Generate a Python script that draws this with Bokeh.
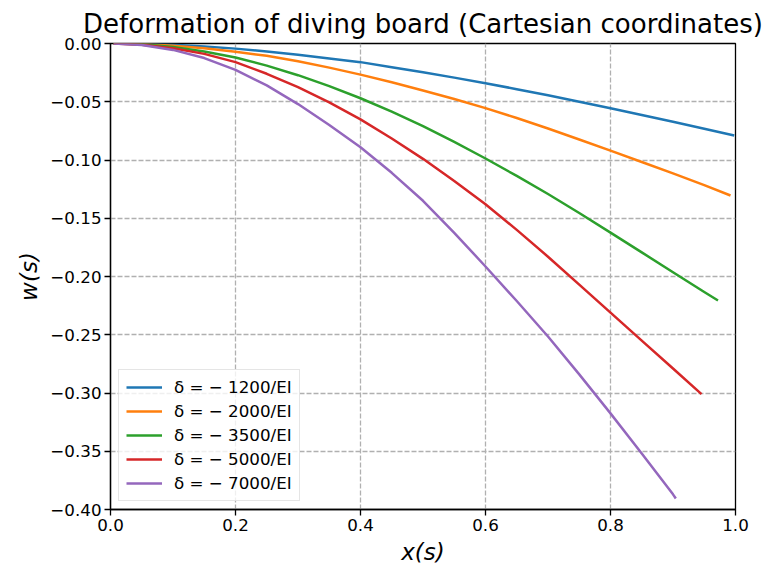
from bokeh.plotting import figure
from bokeh.models import Legend, LegendItem, FixedTicker, CustomJSTickFormatter, Range1d
from bokeh.embed import file_html
from bokeh.resources import INLINE

# ---- data ----
labels = ["δ = − 1200/EI", "δ = − 2000/EI", "δ = − 3500/EI", "δ = − 5000/EI", "δ = − 7000/EI"]
colors = ["#1f77b4", "#ff7f0e", "#2ca02c", "#d62728", "#9467bd"]

x_1200 = [0.005, 0.05, 0.1, 0.15, 0.2, 0.25, 0.3, 0.35, 0.4, 0.45, 0.5, 0.55, 0.6, 0.65, 0.7, 0.75, 0.8, 0.85, 0.9, 0.95, 0.998]
w_1200 = [-0.0001, -0.0003, -0.0011, -0.0025, -0.0044, -0.0068, -0.0096, -0.0128, -0.0160, -0.0204, -0.0247, -0.0293, -0.0341, -0.0392, -0.0445, -0.0500, -0.0555, -0.0614, -0.0672, -0.0731, -0.0790]

x_2000 = [0.005, 0.05, 0.1, 0.15, 0.2, 0.25, 0.3, 0.35, 0.4, 0.45, 0.5, 0.55, 0.6, 0.65, 0.7, 0.75, 0.8, 0.85, 0.9, 0.95, 0.992]
w_2000 = [-0.0001, -0.0005, -0.0019, -0.0040, -0.0070, -0.0106, -0.0152, -0.0207, -0.0267, -0.0333, -0.0403, -0.0477, -0.0555, -0.0640, -0.0730, -0.0824, -0.0920, -0.1017, -0.1115, -0.1215, -0.1305]

x_3500 = [0.005, 0.05, 0.1, 0.15, 0.2, 0.25, 0.3, 0.35, 0.4, 0.45, 0.5, 0.55, 0.6, 0.65, 0.7, 0.75, 0.8, 0.85, 0.9, 0.95, 0.972]
w_3500 = [-0.0001, -0.0007, -0.0030, -0.0068, -0.0120, -0.0190, -0.0272, -0.0366, -0.0470, -0.0585, -0.0710, -0.0845, -0.0987, -0.1137, -0.1292, -0.1455, -0.1623, -0.1793, -0.1963, -0.2133, -0.2206]

x_5000 = [0.005, 0.05, 0.1, 0.15, 0.2, 0.25, 0.3, 0.35, 0.4, 0.45, 0.5, 0.55, 0.6, 0.65, 0.7, 0.75, 0.8, 0.85, 0.9, 0.9456]
w_5000 = [-0.0001, -0.0010, -0.0040, -0.0089, -0.0160, -0.0260, -0.0375, -0.0505, -0.0651, -0.0815, -0.0990, -0.1180, -0.1380, -0.1600, -0.1830, -0.2070, -0.2310, -0.2550, -0.2790, -0.3010]

x_7000 = [0.005, 0.05, 0.1, 0.15, 0.2, 0.25, 0.3, 0.35, 0.4, 0.45, 0.5, 0.55, 0.6, 0.65, 0.7, 0.75, 0.8, 0.85, 0.9, 0.9045]
w_7000 = [-0.0001, -0.0012, -0.0055, -0.0125, -0.0227, -0.0360, -0.0520, -0.0700, -0.0890, -0.1110, -0.1350, -0.1625, -0.1914, -0.2210, -0.2515, -0.2840, -0.3175, -0.3520, -0.3870, -0.3905]

x_ticks = [0.0, 0.2, 0.4, 0.6, 0.8, 1.0]
y_ticks = [0.0, -0.05, -0.10, -0.15, -0.20, -0.25, -0.30, -0.35, -0.40]

series_x = [x_1200, x_2000, x_3500, x_5000, x_7000]
series_w = [w_1200, w_2000, w_3500, w_5000, w_7000]

FONT = "DejaVu Sans"

p = figure(width=768, height=568, output_backend="svg", toolbar_location=None,
           x_range=Range1d(0, 1), y_range=Range1d(-0.4, 0),
           min_border_left=110, min_border_right=33, min_border_top=43, min_border_bottom=59,
           title="Deformation of diving board (Cartesian coordinates)")

p.title.align = "center"
p.title.text_font = FONT
p.title.text_font_size = "26px"
p.title.text_font_style = "normal"
p.title.text_color = "black"

p.background_fill_color = "white"
p.border_fill_color = "white"
p.outline_line_color = "black"
p.outline_line_width = 1.3

items = []
for xs, ws, c, lab in zip(series_x, series_w, colors, labels):
    r = p.line(xs, ws, line_color=c, line_width=2.5, line_join="round")
    items.append(LegendItem(label=lab, renderers=[r]))

# axes
p.xaxis.ticker = FixedTicker(ticks=x_ticks)
p.yaxis.ticker = FixedTicker(ticks=y_ticks)
p.xaxis.formatter = CustomJSTickFormatter(code="return tick.toFixed(1).replace('-', '\u2212');")
p.yaxis.formatter = CustomJSTickFormatter(
    code="var s = (Math.abs(tick) < 1e-9 ? 0 : tick).toFixed(2); return s.replace('-', '\u2212');")
for ax in (p.xaxis, p.yaxis):
    ax.axis_line_color = "black"
    ax.axis_line_width = 1.3
    ax.major_tick_line_color = "black"
    ax.major_tick_line_width = 1.3
    ax.major_tick_out = 6
    ax.major_tick_in = 0
    ax.minor_tick_line_color = None
    ax.major_label_text_font = FONT
    ax.major_label_text_font_size = "16.7px"
    ax.major_label_text_color = "black"
    ax.major_label_standoff = 3
    ax.axis_label_text_font = FONT
    ax.axis_label_text_font_size = "23px"
    ax.axis_label_text_font_style = "italic"
    ax.axis_label_text_color = "black"
    ax.axis_label_standoff = 5
p.xaxis.axis_label = "x(s)"
p.yaxis.axis_label = "w(s)"

# grid
for g in (p.xgrid, p.ygrid):
    g.grid_line_color = "#b0b0b0"
    g.grid_line_width = 1.3
    g.grid_line_dash = "5 2"

legend = Legend(items=items, location="bottom_left")
legend.label_text_font = FONT
legend.label_text_font_size = "16.7px"
legend.label_text_color = "black"
legend.glyph_width = 36
legend.glyph_height = 20
legend.label_height = 20
legend.label_standoff = 12
legend.spacing = 4
legend.padding = 7
legend.margin = 8
legend.border_line_color = "#cccccc"
legend.border_line_width = 1
legend.background_fill_color = "white"
legend.background_fill_alpha = 0.8
p.add_layout(legend)

open("out.html", "w").write(file_html(p, INLINE))
